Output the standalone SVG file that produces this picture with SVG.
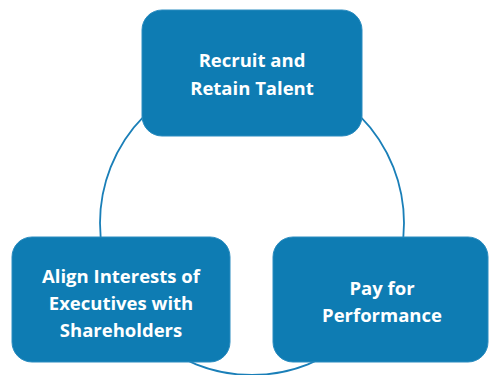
<svg xmlns="http://www.w3.org/2000/svg" width="489" height="375" viewBox="0 0 489 375">
<style>
.box{fill:#0e7cb3;stroke:#2a8cc0;stroke-width:1}
.t{font-family:"Open Sans","Noto Sans",sans-serif;font-weight:bold;font-size:18.5px;fill:#ffffff;text-anchor:middle}
.conn{fill:none;stroke:#1a7fb8;stroke-width:1.8}
</style>
<rect width="489" height="375" fill="#ffffff"/>
<g id="connectors">
<circle class="conn" cx="252" cy="223" r="152"/>
</g>
<g id="node-recruit">
<rect class="box" x="142" y="10" width="220" height="126" rx="20"/>
<text class="t" x="252" y="67">Recruit and</text>
<text class="t" x="252" y="95">Retain Talent</text>
</g>
<g id="node-align">
<rect class="box" x="12" y="237" width="218" height="125" rx="20"/>
<text class="t" x="121" y="283">Align Interests of</text>
<text class="t" x="121" y="310">Executives with</text>
<text class="t" x="121" y="337">Shareholders</text>
</g>
<g id="node-pay">
<rect class="box" x="273" y="237" width="215" height="125" rx="20"/>
<text class="t" x="382" y="295">Pay for</text>
<text class="t" x="382" y="322">Performance</text>
</g>
</svg>
